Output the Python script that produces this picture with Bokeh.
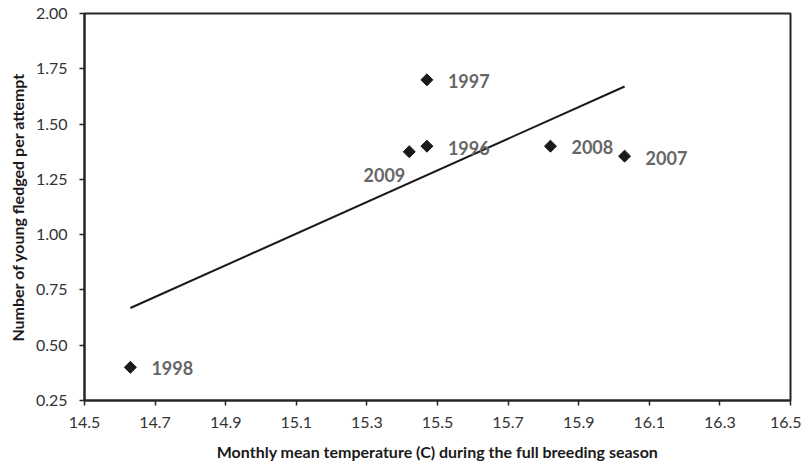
import numpy as np
from bokeh.plotting import figure
from bokeh.models import FixedTicker, NumeralTickFormatter, Range1d, ColumnDataSource
from bokeh.core.properties import value
from bokeh.embed import file_html
from bokeh.resources import INLINE

years = ["1998", "1997", "1996", "2009", "2008", "2007"]
temperature = [14.63, 15.47, 15.47, 15.42, 15.82, 16.03]
fledged = [0.40, 1.70, 1.40, 1.375, 1.40, 1.355]
x_ticks = [14.5, 14.7, 14.9, 15.1, 15.3, 15.5, 15.7, 15.9, 16.1, 16.3, 16.5]
y_ticks = [0.25, 0.50, 0.75, 1.00, 1.25, 1.50, 1.75, 2.00]

# label placement (style only)
lab_dx = {"2009": -4}
lab_dy = {"2009": 23, "1996": 2, "2007": 2}
lab_align = {"2009": "right"}

FONT = "Lato"

p = figure(width=801, height=472, output_backend="svg", toolbar_location=None,
           x_range=Range1d(14.5, 16.5), y_range=Range1d(0.25, 2.0),
           min_border_left=84, min_border_right=11, min_border_top=13, min_border_bottom=72)
p.background_fill_color = "white"
p.border_fill_color = "white"
p.outline_line_color = "#262626"
p.outline_line_width = 2
p.xgrid.visible = False
p.ygrid.visible = False

for ax in (p.xaxis[0], p.yaxis[0]):
    ax.axis_line_color = "#262626"
    ax.axis_line_width = 2
    ax.major_tick_line_color = "#262626"
    ax.major_tick_line_width = 1.5
    ax.major_tick_out = 5
    ax.major_tick_in = 0
    ax.minor_tick_out = 0
    ax.minor_tick_in = 0
    ax.major_label_text_font = FONT
    ax.major_label_text_font_size = "16px"
    ax.major_label_text_color = "#333333"
    ax.axis_label_text_font = FONT
    ax.axis_label_text_font_size = "16px"
    ax.axis_label_text_font_style = "bold"
    ax.axis_label_text_color = "#1a1a1a"

p.xaxis.ticker = FixedTicker(ticks=x_ticks)
p.yaxis.ticker = FixedTicker(ticks=y_ticks)
p.xaxis.formatter = NumeralTickFormatter(format="0.0")
p.yaxis.formatter = NumeralTickFormatter(format="0.00")
p.xaxis.major_label_standoff = 11
p.yaxis.major_label_standoff = 12
p.xaxis.axis_label = "Monthly mean temperature (C) during the full breeding season"
p.yaxis.axis_label = "Number of young fledged per attempt"
p.xaxis.axis_label_standoff = 11
p.yaxis.axis_label_standoff = 6

# linear trend line (least squares fit of the data, as in the source chart)
slope, intercept = np.polyfit(temperature, fledged, 1)
tx = [min(temperature), max(temperature)]
ty = [slope * v + intercept for v in tx]
p.line(tx, ty, line_color="#1a1a1a", line_width=2)

src = ColumnDataSource(dict(
    x=temperature, y=fledged, year=years,
    dx=[lab_dx.get(yr, 21) for yr in years],
    dy=[lab_dy.get(yr, 1) for yr in years],
    align=[lab_align.get(yr, "left") for yr in years],
))
p.scatter("x", "y", source=src, marker="square", angle=np.pi / 4, size=8.5,
          fill_color="#1a1a1a", line_color="#1a1a1a")
p.text("x", "y", text="year", source=src, x_offset="dx", y_offset="dy",
       text_align="align", text_baseline="middle",
       text_font=value(FONT), text_font_size="18px", text_font_style="bold",
       text_color="#666666")

open("out.html", "w").write(file_html(p, INLINE))
